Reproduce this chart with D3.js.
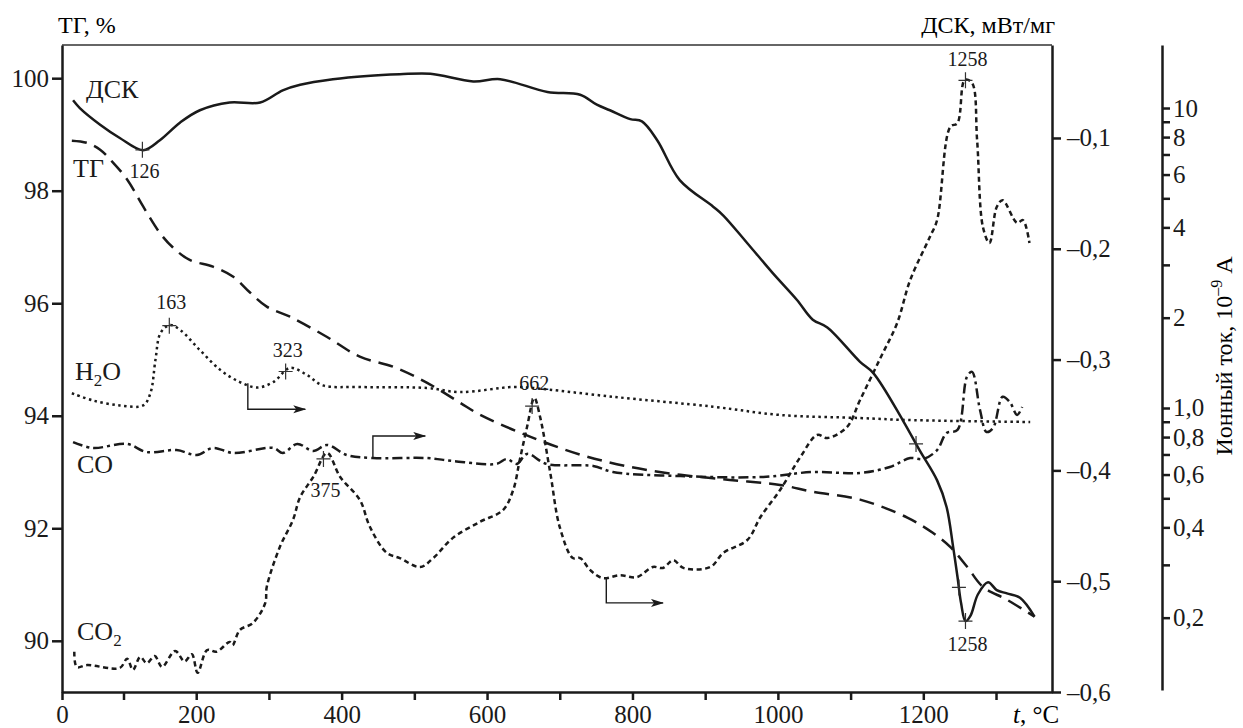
<!DOCTYPE html>
<html>
<head>
<meta charset="utf-8">
<script src="https://cdn.jsdelivr.net/npm/d3@7"></script>
<style>
  body { margin: 0; background: #fff; }
  svg { display: block; font-family: "Liberation Serif", "Times New Roman", serif; }
  .axis path, .axis line { stroke: #1a1a1a; stroke-width: 2.5; }
  .axis text { fill: #1a1a1a; }
  .curve { fill: none; stroke: #1a1a1a; stroke-width: 2.5; }
</style>
</head>
<body>
<svg id="chart" width="1243" height="728"></svg>
<script>
// temperature, °C  ->  DSC, mW/mg
var dscData = [[18,-0.066],[29,-0.073],[62,-0.088],[94,-0.100],[127,-0.111],[150,-0.102],[178,-0.086],
  [205,-0.075],[246,-0.068],[288,-0.068],[319,-0.057],[343,-0.052],[388,-0.047],[435,-0.044],[480,-0.0425],
  [522,-0.042],[581,-0.049],[618,-0.047],[683,-0.0585],[728,-0.061],[751,-0.070],[769,-0.075],[797,-0.083],
  [813,-0.085],[834,-0.102],[865,-0.138],[911,-0.162],[925,-0.170],[958,-0.195],[993,-0.222],[1026,-0.246],
  [1048,-0.264],[1068,-0.271],[1113,-0.302],[1131,-0.312],[1172,-0.355],[1195,-0.382],[1219,-0.409],
  [1232,-0.433],[1241,-0.469],[1247,-0.496],[1252,-0.520],[1258,-0.536],[1265,-0.531],[1275,-0.512],
  [1289,-0.501],[1301,-0.508],[1315,-0.511],[1333,-0.515],[1353,-0.532]];

// temperature -> TG, %
var tgData = [[16,98.89],[41,98.85],[62,98.73],[83,98.50],[105,98.20],[127,97.72],[150,97.25],[168,96.99],
  [191,96.77],[223,96.65],[251,96.47],[274,96.19],[297,95.94],[329,95.76],[380,95.40],[425,95.05],
  [471,94.87],[517,94.59],[563,94.23],[590,94.02],[659,93.63],[728,93.31],[797,93.09],[866,92.95],
  [934,92.86],[1003,92.77],[1048,92.65],[1113,92.51],[1178,92.19],[1213,91.92],[1237,91.67],[1260,91.32],
  [1282,90.96],[1315,90.73],[1353,90.43]];

// temperature -> ion current, 10^-9 A
var h2oData = [[16,1.12],[50,1.06],[94,1.02],[127,1.02],[137,1.12],[144,1.45],[151,1.78],[164,1.89],
  [178,1.82],[205,1.56],[233,1.34],[260,1.22],[284,1.17],[306,1.22],[329,1.36],[352,1.29],[374,1.19],
  [425,1.175],[517,1.166],[563,1.13],[636,1.175],[663,1.166],[773,1.09],[911,1.01],[1003,0.948],
  [1113,0.926],[1178,0.912],[1347,0.898]];

var coData = [[18,0.770],[50,0.736],[105,0.759],[132,0.713],[173,0.724],[201,0.697],[223,0.736],[251,0.708],
  [306,0.736],[319,0.708],[339,0.759],[361,0.719],[380,0.753],[407,0.697],[443,0.681],[517,0.681],
  [553,0.666],[613,0.651],[627,0.676],[641,0.651],[655,0.703],[682,0.651],[746,0.641],[773,0.612],
  [866,0.593],[980,0.589],[1048,0.612],[1113,0.607],[1154,0.636],[1182,0.681],[1200,0.676],[1219,0.724],
  [1232,0.825],[1247,0.845],[1260,1.27],[1267,1.32],[1278,0.985],[1287,0.832],[1296,0.858],[1309,1.09],
  [1319,1.047],[1329,0.948],[1336,1.008]];

var co2Data = [[20,0.154],[24,0.137],[41,0.139],[94,0.136],[105,0.146],[113,0.134],[123,0.148],[132,0.141],
  [143,0.149],[153,0.137],[171,0.155],[184,0.143],[194,0.151],[202,0.131],[215,0.156],[228,0.154],
  [246,0.166],[250,0.162],[260,0.182],[278,0.192],[295,0.224],[297,0.253],[315,0.344],[333,0.423],
  [343,0.505],[361,0.589],[380,0.708],[398,0.589],[425,0.494],[439,0.401],[462,0.329],[480,0.316],
  [508,0.295],[526,0.316],[553,0.369],[590,0.417],[622,0.457],[636,0.533],[645,0.671],[655,0.864],
  [665,1.08],[673,0.933],[687,0.607],[700,0.401],[718,0.316],[728,0.316],[742,0.288],[759,0.271],
  [783,0.277],[806,0.273],[828,0.295],[842,0.293],[856,0.311],[870,0.293],[907,0.295],[925,0.329],
  [958,0.363],[976,0.433],[1003,0.533],[1031,0.687],[1054,0.813],[1068,0.794],[1095,0.864],[1113,1.063],
  [1141,1.468],[1164,1.919],[1182,2.672],[1209,3.715],[1219,4.233],[1237,8.645],[1247,8.913],[1257,12.40],
  [1267,12.12],[1274,7.82],[1282,4.01],[1291,3.548],[1301,4.677],[1309,4.93],[1329,4.14],[1337,4.23],
  [1346,3.548]];

var tempTicks = d3.range(0, 1301, 100);
var tgTicks = [90, 92, 94, 96, 98, 100];
var dscTicks = [-0.1, -0.2, -0.3, -0.4, -0.5, -0.6];
var ionTicks = [0.2,0.3,0.4,0.5,0.6,0.7,0.8,0.9,1,2,3,4,5,6,7,8,9,10];
var ionLabels = [0.2,0.4,0.6,0.8,1,2,4,6,8,10];

// peak markers: series, temperature, label
var peaks = [
  ["dsc", 126, "126", 28], ["h2o", 163, "163", -17], ["h2o", 323, "323", -14],
  ["co2", 375, "375", 38], ["co2", 662, "662", -16], ["co2", 1258, "1258", -14],
  ["dsc", 1258, "1258", 30], ["dsc", 1190, "", 0], ["dsc", 1249, "", 0]
];

// arrows pointing to the ion-current axis: [t0, v0], [t0, v1], [t1, v1]
var arrows = [
  [[271, 1.21], [271, 0.99], [350, 0.99]],
  [[443, 0.687], [443, 0.807], [515, 0.807]],
  [[764, 0.269], [764, 0.224], [842, 0.224]]
];

var svg = d3.select("#chart");

var x = d3.scaleLinear().domain([0, 100, 1377]).range([62, 123.5, 1052]);
var yTg = d3.scaleLinear().domain([89.09, 100.59]).range([692, 45]);
var yDsc = d3.scaleLinear().domain([-0.6, -0.0161]).range([692, 45]);
var yIon = d3.scaleLog().domain([0.1148, 16.22]).range([690, 45]);

var ru = d3.formatLocale({decimal: ",", thousands: " ", grouping: [3], currency: ["", ""], minus: "\u2013"});
var f1 = ru.format(".1f");

// frame top
svg.append("line")
  .attr("x1", x.range()[0]).attr("x2", x.range()[2])
  .attr("y1", yTg.range()[1]).attr("y2", yTg.range()[1])
  .attr("stroke", "#333").attr("stroke-width", 1.5);

var gx = svg.append("g").attr("class", "axis")
  .attr("transform", "translate(0," + yTg.range()[0] + ")")
  .call(d3.axisBottom(x).tickValues(tempTicks).tickSize(8).tickPadding(5).tickSizeOuter(0)
    .tickFormat(function (d) { return d % 200 === 0 ? d : ""; }));

var gl = svg.append("g").attr("class", "axis")
  .attr("transform", "translate(" + x.range()[0] + ",0)")
  .call(d3.axisLeft(yTg).tickValues(tgTicks).tickSize(10).tickPadding(3).tickSizeOuter(0));

var gr = svg.append("g").attr("class", "axis")
  .attr("transform", "translate(" + x.range()[2] + ",0)")
  .call(d3.axisRight(yDsc).tickValues(dscTicks).tickSize(9).tickPadding(6).tickSizeOuter(0).tickFormat(f1));

var gi = svg.append("g").attr("class", "axis")
  .attr("transform", "translate(1162,0)")
  .call(d3.axisRight(yIon).tickValues(ionTicks).tickSize(8).tickPadding(3).tickSizeOuter(0)
    .tickFormat(function (d) {
      if (ionLabels.indexOf(d) < 0) return "";
      return d <= 1 ? f1(d) : d;
    }));

[gx, gl, gr, gi].forEach(function (g) {
  g.attr("font-family", null).attr("font-size", 25);
});

// titles
svg.append("text").attr("x", 58).attr("y", 33).attr("font-size", 24).text("ТГ, %");
svg.append("text").attr("x", 1055).attr("y", 33).attr("font-size", 24)
  .attr("text-anchor", "end").text("ДСК, мВт/мг");
var tl = svg.append("text").attr("x", 1013).attr("y", 723).attr("font-size", 25);
tl.append("tspan").attr("font-style", "italic").text("t");
tl.append("tspan").text(", °C");

var ion = svg.append("text").attr("transform", "translate(1232,356) rotate(-90)")
  .attr("text-anchor", "middle").attr("font-size", 24);
ion.append("tspan").text("Ионный ток, 10");
ion.append("tspan").attr("font-size", 16).attr("dy", -10).text("\u2013" + "9");
ion.append("tspan").attr("dy", 10).text(" А");

// curves
var curve = d3.curveCatmullRom.alpha(0.5);
function lineFor(yScale) {
  return d3.line().x(function (d) { return x(d[0]); }).y(function (d) { return yScale(d[1]); }).curve(curve);
}

var series = {
  dsc: {data: dscData, y: yDsc, dash: null},
  tg: {data: tgData, y: yTg, dash: "15,8"},
  h2o: {data: h2oData, y: yIon, dash: "2.5,3.5"},
  co: {data: coData, y: yIon, dash: "10,4,3,4"},
  co2: {data: co2Data, y: yIon, dash: "5,3.5"}
};

Object.keys(series).forEach(function (k) {
  var s = series[k];
  svg.append("path").datum(s.data)
    .attr("class", "curve")
    .attr("stroke-dasharray", s.dash)
    .attr("d", lineFor(s.y));
});

function valueAt(data, t) {
  for (var i = 1; i < data.length; i++) {
    if (data[i][0] >= t) {
      var a = data[i - 1], b = data[i];
      return a[1] + (b[1] - a[1]) * (t - a[0]) / (b[0] - a[0]);
    }
  }
  return data[data.length - 1][1];
}

// peak crosses
peaks.forEach(function (p) {
  var s = series[p[0]];
  var px = x(p[1]), py = s.y(valueAt(s.data, p[1]));
  svg.append("path")
    .attr("d", "M" + (px - 7) + "," + py + "H" + (px + 7) + "M" + px + "," + (py - 8) + "V" + (py + 8))
    .attr("stroke", "#333").attr("stroke-width", 1.2);
  if (p[2]) {
    svg.append("text").attr("x", px + 2).attr("y", py + p[3])
      .attr("text-anchor", "middle").attr("font-size", 20).attr("fill", "#1a1a1a").text(p[2]);
  }
});

// arrows
svg.append("defs").append("marker")
  .attr("id", "head").attr("markerUnits", "userSpaceOnUse")
  .attr("markerWidth", 14).attr("markerHeight", 10)
  .attr("refX", 12).attr("refY", 4).attr("orient", "auto")
  .append("path").attr("d", "M0,0L13,4L0,8L3,4Z").attr("fill", "#1a1a1a");

arrows.forEach(function (a) {
  svg.append("path")
    .attr("d", d3.line().x(function (d) { return x(d[0]); }).y(function (d) { return yIon(d[1]); })(a))
    .attr("fill", "none").attr("stroke", "#1a1a1a").attr("stroke-width", 1.4)
    .attr("marker-end", "url(#head)");
});

// curve names
function label(px, py, main, sub) {
  var t = svg.append("text").attr("x", px).attr("y", py).attr("font-size", 26).attr("fill", "#1a1a1a");
  t.append("tspan").text(main);
  if (sub) {
    t.append("tspan").attr("font-size", 17).attr("dy", 6).text(sub);
    if (main === "H") t.append("tspan").attr("dy", -6).text("O");
  }
}
label(86, 98, "ДСК");
label(73, 177, "ТГ");
label(75, 380, "H", "2");
label(77, 473, "CO");
label(77, 640, "CO", "2");
</script>
</body>
</html>
